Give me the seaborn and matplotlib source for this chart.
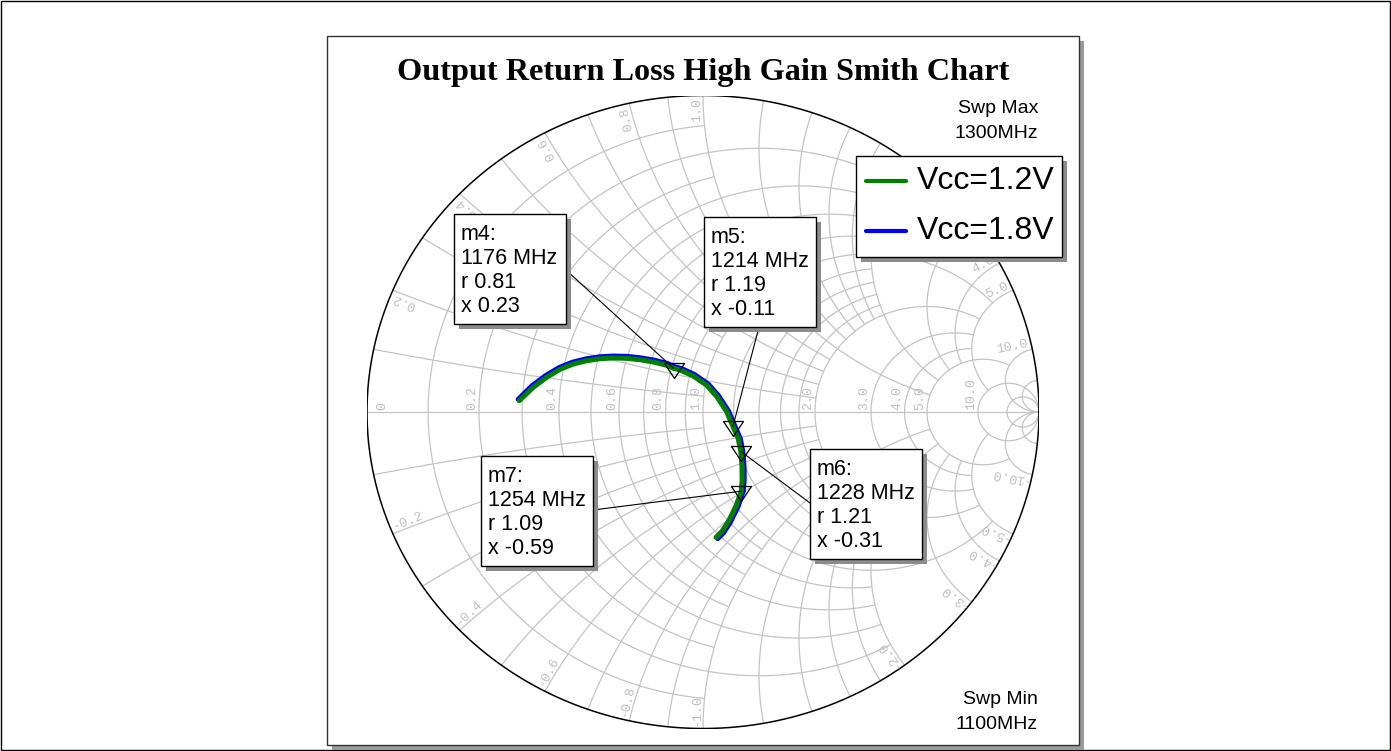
import numpy as np
import pandas as pd
import seaborn as sns
import matplotlib.pyplot as plt
from matplotlib.patches import Rectangle, ConnectionPatch

# ---- data: S22 sweep (reflection coefficient, real / imag) ----
freq_mhz = [1100, 1107, 1113, 1119, 1125, 1131, 1137, 1143, 1149, 1155, 1161, 1168, 1176, 1181,
            1187, 1194, 1200, 1206, 1214, 1221, 1228, 1238, 1247, 1254, 1266, 1278, 1290, 1300]
s22_12v_re = [-0.5467, -0.5051, -0.4652, -0.4256, -0.3860, -0.3461, -0.3065, -0.2670, -0.2271,
              -0.1875, -0.1479, -0.1080, -0.0874, -0.0685, -0.0289, 0.0110, 0.0408, 0.0705,
              0.0891, 0.1050, 0.1125, 0.1160, 0.1165, 0.1137, 0.0990, 0.0753, 0.0557, 0.0387]
s22_12v_im = [0.0357, 0.0780, 0.1096, 0.1349, 0.1517, 0.1621, 0.1684, 0.1706, 0.1697,
              0.1652, 0.1580, 0.1476, 0.1380, 0.1327, 0.1137, 0.0844, 0.0490, 0.0009,
              -0.0458, -0.0840, -0.1245, -0.1728, -0.2150, -0.2502, -0.2950, -0.3466, -0.3782, -0.3959]
s22_18v_re = [-0.5500, -0.5090, -0.4685, -0.4280, -0.3878, -0.3472, -0.3070, -0.2670, -0.2265,
              -0.1865, -0.1462, -0.1058, -0.0848, -0.0655, -0.0250, 0.0160, 0.0460, 0.0763,
              0.0950, 0.1110, 0.1185, 0.1222, 0.1226, 0.1197, 0.1050, 0.0808, 0.0608, 0.0437]
s22_18v_im = [0.0400, 0.0830, 0.1150, 0.1405, 0.1575, 0.1680, 0.1745, 0.1767, 0.1758,
              0.1712, 0.1640, 0.1533, 0.1434, 0.1380, 0.1182, 0.0880, 0.0518, 0.0025,
              -0.0450, -0.0835, -0.1245, -0.1728, -0.2155, -0.2510, -0.2970, -0.3495, -0.3820, -0.4000]

series_names = ['Vcc=1.2V', 'Vcc=1.8V']
series_colors = ['#008000', '#0000ff']

marker_names = ['m4', 'm5', 'm6', 'm7']
marker_freq = [1176, 1214, 1228, 1254]
marker_r = [0.81, 1.19, 1.21, 1.09]
marker_x = [0.23, -0.11, -0.31, -0.59]

# grid values: (value, limit of the other coordinate)
grid_r = [(0.1, 1), (0.2, 2), (0.3, 1), (0.4, 2), (0.5, 1), (0.6, 2), (0.7, 1), (0.8, 2),
          (0.9, 1), (1.0, 5), (1.2, 2), (1.4, 2), (1.6, 2), (1.8, 2), (2.0, 5),
          (3.0, 5), (4.0, 5), (5.0, 10), (10.0, np.inf), (20.0, np.inf)]
grid_x = grid_r
axis_labels = [0, 0.2, 0.4, 0.6, 0.8, 1.0, 2.0, 3.0, 4.0, 5.0, 10.0]
edge_labels = [0.2, 0.4, 0.6, 0.8, 1.0, 2.0, 3.0, 4.0, 5.0, 10.0]

sns.set_style('white')
plt.rcParams['font.family'] = ['Liberation Sans', 'DejaVu Sans']
plt.rcParams['text.color'] = 'black'

W, H = 1391, 751
fig = plt.figure(figsize=(W / 100, H / 100), dpi=100)

bg = fig.add_axes([0, 0, 1, 1])
bg.set_xlim(0, W); bg.set_ylim(H, 0); bg.axis('off')
# smith chart area (pixel box of the unit circle)
cx, cy, rx, ry = 703, 412, 336, 316.5
ax = fig.add_axes([(cx - rx) / W, (H - cy - ry) / H, 2 * rx / W, 2 * ry / H])
ax.set_xlim(-1, 1); ax.set_ylim(-1, 1); ax.axis('off')
fg = fig.add_axes([0, 0, 1, 1])
fg.set_xlim(0, W); fg.set_ylim(H, 0); fg.axis('off')

# outer frame and panel with shadow
bg.add_patch(Rectangle((0.5, 0.5), W - 1.5, H - 1.5, fill=False, ec='black', lw=1))
bg.add_patch(Rectangle((332, 41), 752, 709, fc='#9a9a9a', ec='none'))
bg.add_patch(Rectangle((327, 36), 752, 709, fc='white', ec='#333333', lw=1))


def gam(z):
    return (z - 1) / (z + 1)


grid_kw = dict(color='#c4c4c4', lw=0.9, zorder=1)
for r, xmax in grid_r:
    t = np.linspace(-np.arctan(xmax), np.arctan(xmax), 600)
    g = gam(r + 1j * np.tan(t))
    ax.plot(g.real, g.imag, **grid_kw)
for xv, rmax in grid_x:
    t = np.linspace(0, np.arctan(rmax), 600)
    for s in (1, -1):
        g = gam(np.tan(t) + 1j * s * xv)
        ax.plot(g.real, g.imag, **grid_kw)
ax.plot([-1, 1], [0, 0], **grid_kw)
tt = np.linspace(0, 2 * np.pi, 800)
ax.plot(np.cos(tt), np.sin(tt), color='black', lw=1.1, zorder=2)

lab_kw = dict(color='#c0c0c0', fontsize=9.5, family='Liberation Mono',
              rotation_mode='anchor', zorder=2)
for v in axis_labels:
    u = gam(v) if v > 0 else -1 + 22 / rx
    ax.text(u - 1 / rx, 2 / ry, '%g' % v if v == 0 else '%.1f' % v,
            rotation=90, ha='left', va='bottom', **lab_kw)
for v in edge_labels:
    for s in (1, -1):
        g = gam(1j * s * v)
        th = np.degrees(np.angle(g))
        k = 1 - 3 / rx
        if s > 0:
            ax.text(g.real * k, g.imag * k, '%.1f' % v, rotation=th,
                    ha='right', va='bottom', **lab_kw)
        else:
            ax.text(g.real * k, g.imag * k, '-%.1f' % v, rotation=th + 180,
                    ha='left', va='bottom', **lab_kw)

# traces
df = pd.DataFrame({
    'freq': freq_mhz * 2,
    're': s22_12v_re + s22_18v_re,
    'im': s22_12v_im + s22_18v_im,
    'series': [series_names[0]] * len(freq_mhz) + [series_names[1]] * len(freq_mhz),
})
for name, col in zip(series_names[::-1], series_colors[::-1]):
    sns.lineplot(data=df[df['series'] == name], x='re', y='im', sort=False,
                 estimator=None, color=col, lw=3.6, ax=ax, legend=False, zorder=4)
ax.set_xlim(-1, 1); ax.set_ylim(-1, 1); ax.axis('off')

# markers
mg = gam(np.array(marker_r) + 1j * np.array(marker_x))
tri = [(-10, 5), (10, 5), (0, -10), (-10, 5)]
ax.plot(mg.real, mg.imag, ls='none', marker=tri, ms=14.4, mfc='none', mec='black',
        mew=0.9, zorder=5)

# marker boxes: left, top, leader start
box_pos = [(454, 214), (704, 217), (810, 449), (481, 456)]
leader_from = [(566, 270), (759, 327), (810, 503), (593, 510)]
bw, bh = 112, 110
for i, name in enumerate(marker_names):
    x0, y0 = box_pos[i]
    fg.add_artist(ConnectionPatch(leader_from[i], (mg[i].real, mg[i].imag),
                                  coordsA=fg.transData, coordsB=ax.transData,
                                  color='black', lw=0.8, zorder=2))
    fg.add_patch(Rectangle((x0 + 5, y0 + 5), bw, bh, fc='#8c8c8c', ec='none', zorder=3))
    fg.add_patch(Rectangle((x0, y0), bw, bh, fc='white', ec='black', lw=1, zorder=4))
    lines = ['%s:' % name, '%d MHz' % marker_freq[i], 'r %.2f' % marker_r[i],
             'x %.2f' % marker_x[i]]
    for j, s in enumerate(lines):
        fg.text(x0 + 7, y0 + 26 + 24 * j, s, fontsize=15.5, va='baseline', ha='left', zorder=5)

# legend
lx, ly, lw_, lh = 856, 156, 206, 101
fg.add_patch(Rectangle((lx + 5, ly + 5), lw_, lh, fc='#8c8c8c', ec='none', zorder=3))
fg.add_patch(Rectangle((lx, ly), lw_, lh, fc='white', ec='black', lw=1, zorder=4))
for j, (name, col) in enumerate(zip(series_names, series_colors)):
    yy = 181 + 50 * j
    fg.plot([866, 906], [yy, yy], color=col, lw=3, zorder=5)
    fg.text(917, yy, name, fontsize=23, va='center', ha='left', zorder=5)

# title and sweep notes
fg.text(703, 80, 'Output Return Loss High Gain Smith Chart', fontsize=23.2,
        fontweight='bold', family='Liberation Serif', ha='center', va='baseline')
fg.text(1038, 113, 'Swp Max', fontsize=14, ha='right', va='baseline')
fg.text(1038, 138, '1300MHz', fontsize=14, ha='right', va='baseline')
fg.text(1038, 704, 'Swp Min', fontsize=14, ha='right', va='baseline')
fg.text(1038, 729, '1100MHz', fontsize=14, ha='right', va='baseline')

fig.savefig('out.png', dpi=100)
